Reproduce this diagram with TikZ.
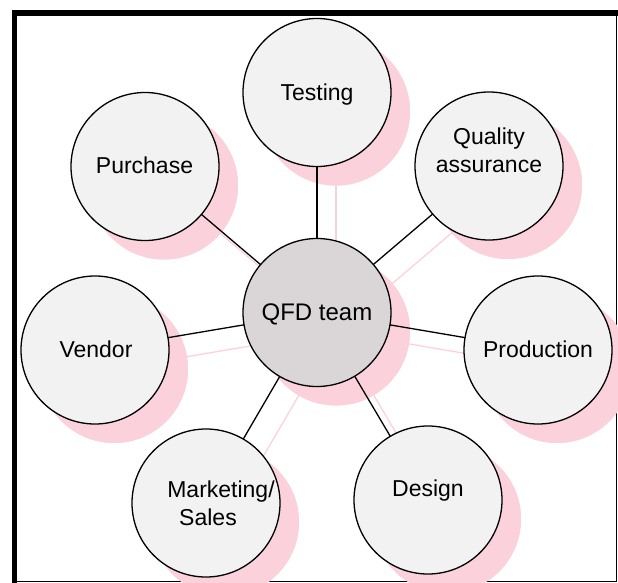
\documentclass[tikz,border=0pt]{standalone}
\usepackage{fontspec}
\setmainfont{Liberation Sans}
\definecolor{shpink}{RGB}{251,210,220}
\definecolor{bubfill}{RGB}{242,242,242}
\definecolor{corefill}{RGB}{218,214,216}
\tikzset{
  bub/.style={circle, draw=black, line width=1.3pt, fill=bubfill, minimum size=148pt, inner sep=0pt},
  core/.style={bub, fill=corefill},
  shad/.style={circle, fill=shpink, minimum size=148pt, inner sep=0pt},
  link/.style={line width=1.3pt, draw=black},
  shlink/.style={line width=1.3pt, draw=shpink},
  lbl/.style={anchor=base, inner sep=0pt, font=\fontsize{23}{27}\selectfont},
  frameline/.style={fill=black}
}
\begin{document}
\begin{tikzpicture}[x=1pt,y=-1pt]
\useasboundingbox (0,0) rectangle (618,583);
\fill[white] (0,0) rectangle (618,583);
% frame
\fill[frameline] (12,10) rectangle (618,16);
\fill[frameline] (12,10) rectangle (17,583);
\fill[frameline] (616,16) rectangle (617,582);
\fill[frameline] (17,581) rectangle (617,582);
% shadow nodes
\node[shad] (sQ) at (336,331.5) {};
\node[shad] (sT) at (336,111.5) {};
\node[shad] (sA) at (508,185) {};
\node[shad] (sP) at (164,185.5) {};
\node[shad] (sV) at (114,369) {};
\node[shad] (sR) at (557,369) {};
\node[shad] (sD) at (447,519) {};
\node[shad] (sM) at (225,522) {};
% shadow links
\foreach \n in {sT,sA,sP,sV,sR,sD,sM}{
  \draw[shlink] (sQ.center) -- (\n.center);
}
% redraw shadows over the pink links
\foreach \p/\n in {{(336,331.5)}/sQ2,{(336,111.5)}/sT2,{(508,185)}/sA2,{(164,185.5)}/sP2,{(114,369)}/sV2,{(557,369)}/sR2,{(447,519)}/sD2,{(225,522)}/sM2}{
  \node[shad] (\n) at \p {};
}
% coordinates of main circles
\coordinate (cQ) at (317,312.5);
\coordinate (cT) at (317,92.5);
\coordinate (cA) at (489,166);
\coordinate (cP) at (145,166.5);
\coordinate (cV) at (95,350);
\coordinate (cR) at (538,350);
\coordinate (cD) at (428,500);
\coordinate (cM) at (206,503);
% black links
\foreach \n in {cT,cA,cP,cV,cR,cD,cM}{
  \draw[link] (cQ) -- (\n);
}
% circles
\node[core] (Q) at (cQ) {};
\node[bub] (T) at (cT) {};
\node[bub] (A) at (cA) {};
\node[bub] (P) at (cP) {};
\node[bub] (V) at (cV) {};
\node[bub] (R) at (cR) {};
\node[bub] (D) at (cD) {};
\node[bub] (M) at (cM) {};
% labels
\node[lbl, font=\fontsize{24}{28}\selectfont] (tQ) at (317,320) {QFD team};
\node[lbl] (tT) at (317,101) {Testing};
\node[lbl] (tA1) at (489,145) {Quality};
\node[lbl] (tA2) at (489,172) {assurance};
\node[lbl] (tP) at (144.5,173) {Purchase};
\node[lbl] (tV) at (96,357) {Vendor};
\node[lbl] (tR) at (538,357) {Production};
\node[lbl] (tD) at (428,496) {Design};
\node[lbl] (tM1) at (221,497) {Marketing/};
\node[lbl] (tM2) at (208,525) {Sales};
\end{tikzpicture}
\end{document}
